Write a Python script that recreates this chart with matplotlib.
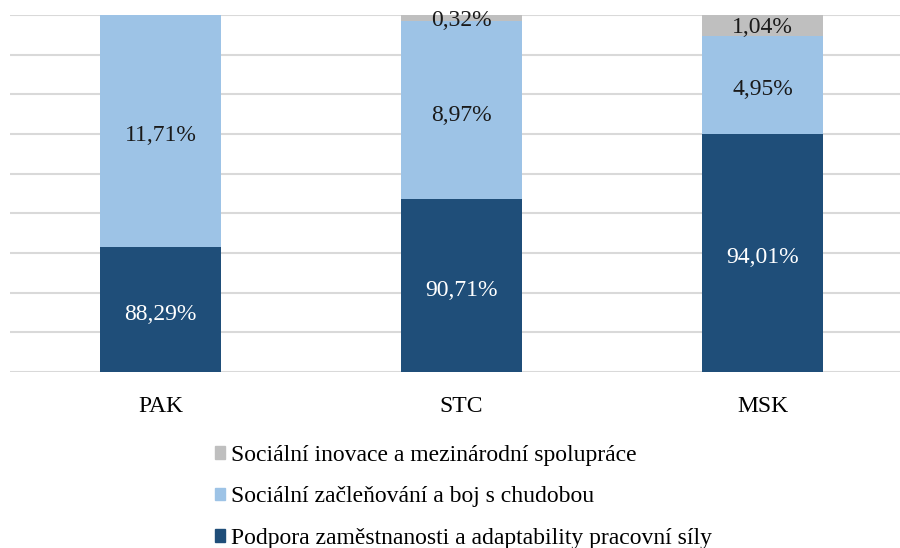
import matplotlib.pyplot as plt
import numpy as np
from matplotlib.patches import Patch

plt.rcParams['font.family'] = ['Liberation Serif', 'DejaVu Serif']

# Data
regions = ['PAK', 'STC', 'MSK']
podpora = [88.29, 90.71, 94.01]
zaclenovani = [11.71, 8.97, 4.95]
inovace = [0.0, 0.32, 1.04]

series_names = ['Podpora zaměstnanosti a adaptability pracovní síly',
                'Sociální začleňování a boj s chudobou',
                'Sociální inovace a mezinárodní spolupráce']
colors = ['#1F4E79', '#9DC3E6', '#BFBFBF']
text_colors = ['white', '#1a1a1a', '#1a1a1a']

ymin, ymax = 82, 100

fig = plt.figure(figsize=(9, 5.48), dpi=100)
ax = fig.add_axes([10 / 900, 176 / 548, 890 / 900, 357 / 548])

x = np.arange(len(regions))
bottom = np.zeros(len(regions))
for vals, col, tcol in zip([podpora, zaclenovani, inovace], colors, text_colors):
    vals = np.array(vals)
    ax.bar(x, vals, 0.4, bottom=bottom, color=col, zorder=2)
    for xi, b, v in zip(x, bottom, vals):
        if v > 0:
            # label sits in the middle of the visible part of the segment
            ymid = (max(b, ymin) + b + v) / 2
            off = -3.5 if v > 2 else -1.5
            ax.annotate(f'{v:.2f}%'.replace('.', ','), (xi, ymid), xytext=(0, off),
                        textcoords='offset points', ha='center', va='center',
                        color=tcol, fontsize=17, zorder=3)
    bottom += vals

ax.set_ylim(ymin, ymax)
ax.set_xlim(-0.5, 2.457)
ax.set_yticks(np.arange(ymin, ymax + 1, 2))
ax.set_yticklabels([])
ax.yaxis.grid(True, color='#D9D9D9', linewidth=1.5, zorder=0)
ax.tick_params(length=0, labelsize=17, pad=17)
ax.set_xticks(x)
ax.set_xticklabels(regions)
for s in ax.spines.values():
    s.set_visible(False)

handles = [Patch(color=c) for c in colors][::-1]
fig.legend(handles, series_names[::-1], loc='upper left', bbox_to_anchor=(203 / 900, 1 - 433 / 548),
           frameon=False, fontsize=17, handlelength=0.45, handleheight=0.45, handletextpad=0.25,
           labelspacing=0.87, borderpad=0)

fig.savefig('out.png', dpi=100)
